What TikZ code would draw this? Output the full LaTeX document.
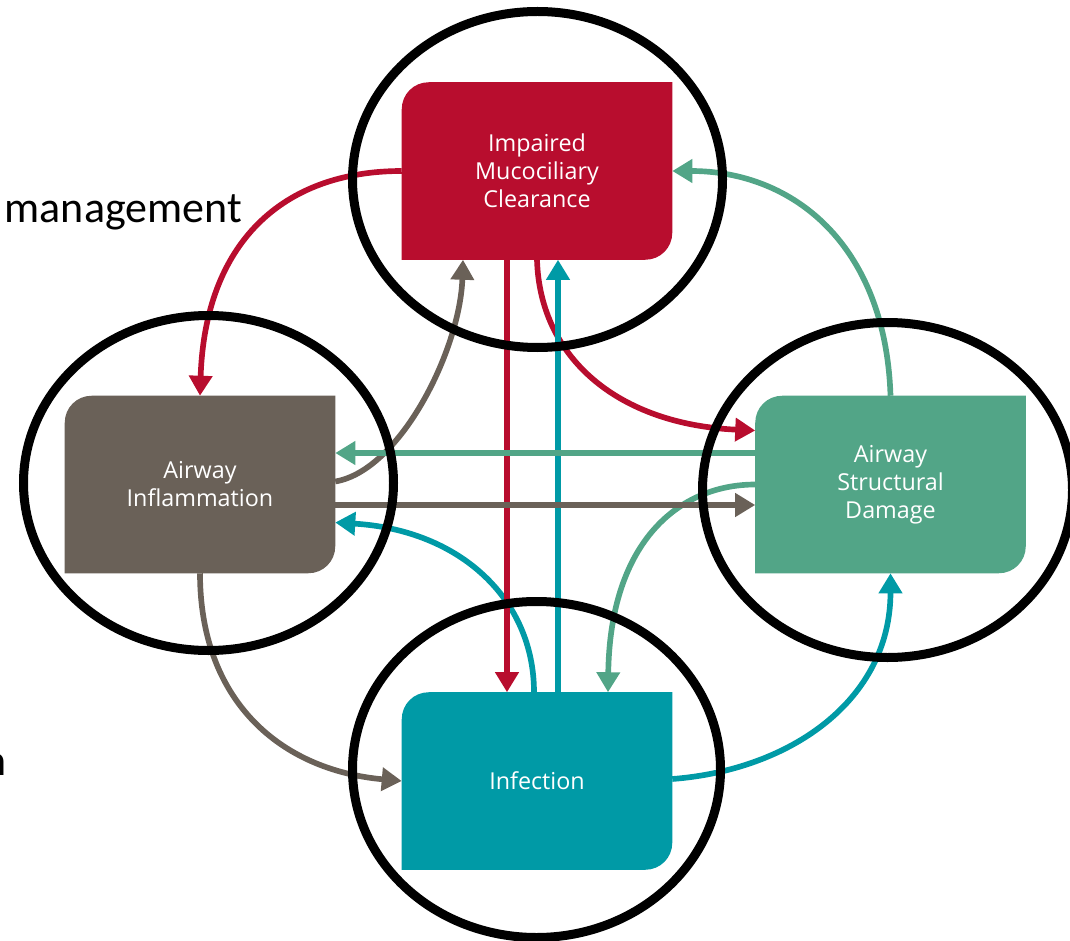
\documentclass[tikz,border=0pt]{standalone}
\usepackage{fontspec}
\setmainfont{Carlito}
\newfontfamily\boxfont{Open Sans}
\usetikzlibrary{arrows.meta,calc,backgrounds}

\definecolor{mccred}{RGB}{184,13,46}
\definecolor{inflgrey}{RGB}{106,97,88}
\definecolor{damgreen}{RGB}{82,165,135}
\definecolor{infteal}{RGB}{0,154,166}

% box with round top left and bottom right corners, drawn behind node #1
\newcommand{\leafbox}[2]{%
  \fill[#2] ($(#1.north west)+(0,27)$) .. controls ($(#1.north west)+(0,12)$) and ($(#1.north west)+(12,0)$) .. ($(#1.north west)+(27,0)$) -- (#1.north east) -- ($(#1.south east)+(0,-27)$) .. controls ($(#1.south east)+(0,-12)$) and ($(#1.south east)+(-12,0)$) .. ($(#1.south east)+(-27,0)$) -- (#1.south west) -- cycle;}

\begin{document}
\begin{tikzpicture}[x=0.75pt,y=0.75pt,yscale=-1,xscale=1,
  box/.style={minimum width=202.5pt,minimum height=132.75pt,inner sep=0pt,align=center,text=white,font=\boxfont\fontsize{17.5}{21}\selectfont},
  link/.style={line width=4.25pt,-{Triangle[length=15pt,width=17pt]}},
  ring/.style={line width=6.75pt,black},
  slide/.style={inner sep=0pt,font=\fontsize{33}{40}\selectfont}]
\path[use as bounding box] (0,0) rectangle (1070,941);

% Boxes
\node[box] (mcc) at (537,171) {Impaired\\Mucociliary\\Clearance};
\node[box] (infl) at (200,484.5) {Airway\\Inflammation};
\node[box] (dam) at (890.5,484.5) {Airway\\Structural\\Damage};
\node[box] (inf) at (537,781) {Infection};

\begin{scope}[on background layer]
\leafbox{mcc}{mccred}
\leafbox{infl}{inflgrey}
\leafbox{dam}{damgreen}
\leafbox{inf}{infteal}
\end{scope}

% Curve Lines
\draw[link,mccred] (mcc.west) .. controls ($(mcc.west)+(-120,0)$) and ($(infl.north)+(5,-152)$) .. (infl.north);
\draw[link,damgreen] (dam.north) .. controls ($(dam.north)+(-5,-152)$) and ($(mcc.east)+(120,0)$) .. (mcc.east);
\draw[link,mccred] (mcc.south) .. controls ($(mcc.south)+(3,100)$) and ($(dam.west)+(-135,-60)$) .. ($(dam.west)+(0,-54)$);
\draw[link,inflgrey] ($(infl.east)+(0,-3)$) .. controls ($(infl.east)+(65,-14)$) and ($(mcc.south)+(-77,90)$) .. ($(mcc.south)+(-74,0)$);
\draw[link,infteal] ($(inf.north)+(-3,0)$) .. controls ($(inf.north)+(-3,-93)$) and ($(infl.east)+(125,45.5)$) .. ($(infl.east)+(0,38)$);
\draw[link,damgreen] (dam.west) .. controls ($(dam.west)+(-75,0)$) and ($(inf.north)+(73,-152)$) .. ($(inf.north)+(71,0)$);
\draw[link,inflgrey] (infl.south) .. controls ($(infl.south)+(0,127)$) and ($(inf.west)+(-122,-11)$) .. (inf.west);
\draw[link,infteal] ($(inf.east)+(0,-2)$) .. controls ($(inf.east)+(118,-11)$) and ($(dam.south)+(0,127)$) .. (dam.south);

% Straight Lines
\draw[link,mccred] ($(mcc.south)+(-30,0)$) -- ($(inf.north)+(-30,0)$);
\draw[link,infteal] ($(inf.north)+(21,0)$) -- ($(mcc.south)+(21,0)$);
\draw[link,damgreen] ($(dam.west)+(0,-31.5)$) -- ($(infl.east)+(0,-31.5)$);
\draw[link,inflgrey] ($(infl.east)+(0,20.5)$) -- ($(dam.west)+(0,20.5)$);

% Rings
\draw[ring] (537.5,179.5) ellipse [x radius=185, y radius=168];
\draw[ring] (208.5,483) ellipse [x radius=185, y radius=167.5];
\draw[ring] (887.5,490) ellipse [x radius=185, y radius=167.5];
\draw[ring] (536.5,769.5) ellipse [x radius=184, y radius=168];

% Text Node
\node[slide,anchor=base west] (mgmt) at (4.5,223) {management};
% Text Node
\node[slide,anchor=base east] (cut) at (7,775) {n};

\end{tikzpicture}
\end{document}
